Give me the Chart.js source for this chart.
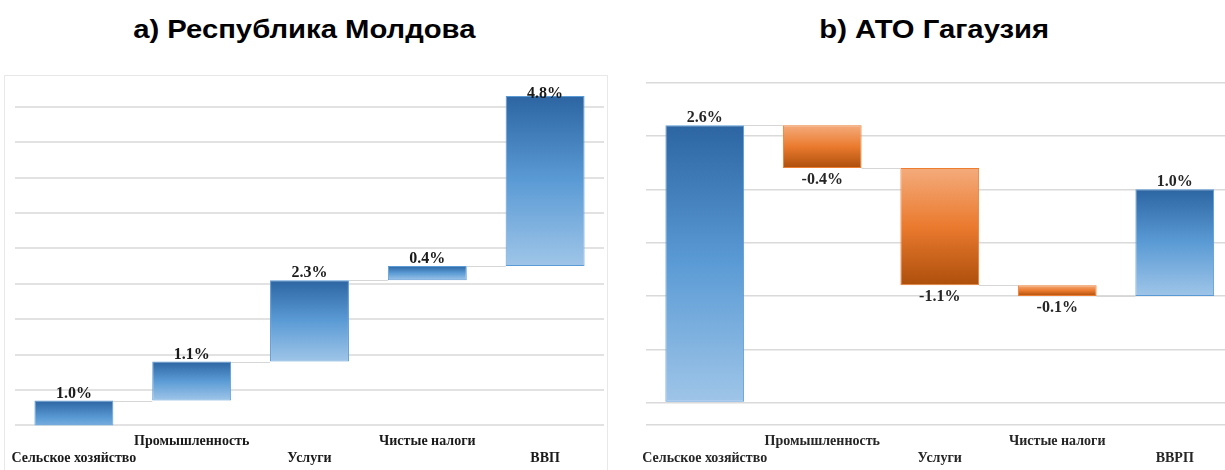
<!DOCTYPE html>
<html>
<head>
<meta charset="utf-8">
<script src="https://cdn.jsdelivr.net/npm/chart.js@4/dist/chart.umd.min.js"></script>
<style>
  html, body { margin: 0; padding: 0; background: #fff; overflow: hidden; width: 1225px; height: 470px; }
  .title { position: absolute; top: 17px; font: bold 25px "Liberation Sans", Arial, sans-serif; line-height: 25px; color: #000; text-align: center; white-space: nowrap; }
  .title span { display: inline-block; transform: scaleX(1.17); transform-origin: 50% 50%; }
  #boxL { position: absolute; left: 4px; top: 75px; width: 604px; height: 420px; border: 1px solid #e8e8e8; box-sizing: border-box; }
  canvas { position: absolute; top: 0; }
</style>
</head>
<body>
<div id="boxL"></div>
<div class="title" style="left:0; width:608px;"><span>a) Республика Молдова</span></div>
<div class="title" style="left:612px; width:644px;"><span>b) АТО Гагаузия</span></div>
<canvas id="cL" width="612" height="470" style="left:0"></canvas>
<canvas id="cR" width="632" height="470" style="left:612px"></canvas>
<script>
// ---- data ----
const categoriesL = [['', 'Сельское хозяйство'], ['Промышленность', ''], ['', 'Услуги'], ['Чистые налоги', ''], ['', 'ВВП']];
const categoriesR = [['', 'Сельское хозяйство'], ['Промышленность', ''], ['', 'Услуги'], ['Чистые налоги', ''], ['', 'ВВРП']];
const valuesL = [1.0, 1.1, 2.3, 0.4, 4.8];
const baseL   = [0.0, 1.0, 2.1, 4.4, 4.8];
const valuesR = [2.6, -0.4, -1.1, -0.1, 1.0];
const baseR   = [0.0, 2.6, 2.2, 1.1, 1.0];
const gridL = [0.3, 1.3, 2.3, 3.3, 4.3, 5.3, 6.3, 7.3, 8.3, 9.3];
const gridR = [-0.21, 0, 0.5, 1.0, 1.5, 2.0, 2.5, 3.0];

const BLUE = ['#2c65a2', '#5b9bd5', '#9fc5e8'];
const ORANGE = ['#f4ab7c', '#ea7a2e', '#ad4f0c'];

function barColor(values) {
  return (c) => {
    const chart = c.chart;
    const cols = values[c.dataIndex] >= 0 ? BLUE : ORANGE;
    if (!chart.chartArea || c.type !== 'data' || !chart.scales.y) return cols[1];
    const y = chart.scales.y;
    const [s, e] = c.raw;
    const top = y.getPixelForValue(Math.max(s, e));
    const bot = y.getPixelForValue(Math.min(s, e));
    if (!isFinite(top) || !isFinite(bot) || top === bot) return cols[1];
    const g = chart.ctx.createLinearGradient(0, top, 0, bot);
    g.addColorStop(0, cols[0]);
    g.addColorStop(0.5, cols[1]);
    g.addColorStop(1, cols[2]);
    return g;
  };
}

const wfPlugin = {
  id: 'wf',
  afterDatasetsDraw(chart, args, opts) {
    const { ctx, chartArea, scales: { y } } = chart;
    const meta = chart.getDatasetMeta(0);
    const data = chart.data.datasets[0].data;
    ctx.save();
    ctx.strokeStyle = '#d6d6d6';
    ctx.lineWidth = 1;
    for (let i = 0; i < meta.data.length - 1; i++) {
      const a = meta.data[i], b = meta.data[i + 1];
      const py = Math.round(y.getPixelForValue(data[i][1])) + 0.5;
      ctx.beginPath();
      ctx.moveTo(a.x + a.width / 2, py);
      ctx.lineTo(b.x - b.width / 2, py);
      ctx.stroke();
    }
    ctx.font = 'bold 16px "Liberation Serif", "Times New Roman", serif';
    ctx.fillStyle = opts.color;
    ctx.textAlign = 'center';
    ctx.textBaseline = 'alphabetic';
    meta.data.forEach((bar, i) => {
      const v = opts.values[i];
      const [s, e] = data[i];
      const txt = v.toFixed(1) + '%';
      if (v >= 0) {
        let by = y.getPixelForValue(Math.max(s, e)) - 3;
        by = Math.max(by, chartArea.top + 11);
        ctx.fillText(txt, bar.x, by);
      } else {
        const by = y.getPixelForValue(Math.min(s, e)) + 16;
        ctx.fillText(txt, bar.x, by);
      }
    });
    ctx.restore();
  }
};

function makeChart(id, cats, base, values, grid, yMin, yMax, pad, bottom, gridStyle, labelColor) {
  return new Chart(document.getElementById(id), {
    type: 'bar',
    data: {
      labels: cats,
      datasets: [{
        data: base.map((b, i) => [b, b + values[i]]),
        backgroundColor: barColor(values),
        borderColor: (c) => values[c.dataIndex] >= 0 ? '#5b9bd5' : '#ed7d31',
        borderWidth: 1,
        borderSkipped: false,
        categoryPercentage: 0.67,
        barPercentage: 1.0
      }]
    },
    options: {
      responsive: false,
      animation: false,
      devicePixelRatio: 1,
      layout: { padding: pad },
      plugins: {
        legend: { display: false },
        tooltip: { enabled: false },
        wf: { values: values, color: labelColor }
      },
      scales: {
        x: {
          grid: { display: false, drawTicks: false },
          border: { display: false },
          ticks: {
            color: labelColor,
            padding: 8,
            maxRotation: 0,
            autoSkip: false,
            font: { family: '"Liberation Serif", "Times New Roman", serif', size: 14, weight: 'bold', lineHeight: 1.2 }
          },
          afterFit: (s) => { s.height = bottom; }
        },
        y: {
          min: yMin, max: yMax,
          afterBuildTicks: (s) => { s.ticks = grid.map(v => ({ value: v })); },
          ticks: { display: false },
          grid: { color: gridStyle[0], lineWidth: gridStyle[1], drawTicks: false },
          border: { display: false }
        }
      }
    },
    plugins: [wfPlugin]
  });
}

makeChart('cL', categoriesL, baseL, valuesL, gridL, 0.3, 9.865,
  { left: 15, right: 8, top: 86.7, bottom: 0 }, 44.7, ['#e2e2e2', 2], '#1a1a1a');
makeChart('cR', categoriesR, baseR, valuesR, gridR, -0.21, 3.0,
  { left: 34, right: 10.5, top: 82.7, bottom: 0 }, 45, ['#dadada', 1.5], '#262626');
</script>
</body>
</html>
